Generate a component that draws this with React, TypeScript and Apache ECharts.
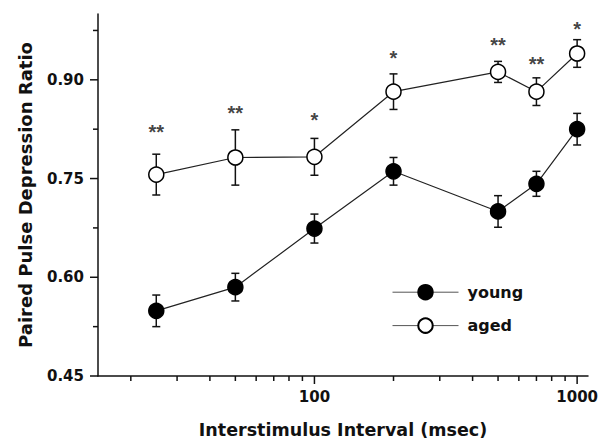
import React, { useEffect, useRef } from 'react';
import * as echarts from 'echarts';

const intervals = [25, 50, 100, 200, 500, 700, 1000];
const youngMean = [0.549, 0.585, 0.674, 0.761, 0.700, 0.742, 0.825];
const youngSem = [0.024, 0.021, 0.022, 0.021, 0.024, 0.019, 0.024];
const agedMean = [0.756, 0.782, 0.783, 0.882, 0.912, 0.882, 0.940];
const agedSem = [0.031, 0.042, 0.028, 0.027, 0.016, 0.021, 0.021];
const significance = ['**', '**', '*', '*', '**', '**', '*'];
const starY = [0.827, 0.856, 0.845, 0.939, 0.959, 0.930, 0.983];
const yLabels = [0.45, 0.6, 0.75, 0.9];
const yMinorTicks = [0.525, 0.675, 0.825, 0.975];
const xLabels = [100, 1000];
const xMinorTicks = [20, 30, 40, 50, 60, 70, 80, 90, 200, 300, 400, 500, 600, 700, 800, 900];

const X_MIN = 15;
const X_MAX = 1100;
const Y_MIN = 0.45;
const Y_MAX = 1.0;
const FONT = '"DejaVu Sans", "Liberation Sans", Arial, sans-serif';
const STAR_FONT = '"Liberation Sans", Arial, sans-serif';
const INK = '#111';

export default function App() {
  const ref = useRef<HTMLDivElement>(null);
  useEffect(() => {
    if (!ref.current) return;
    const chart = echarts.init(ref.current, null, { renderer: 'svg' });

    const errData = (mean: number[], sem: number[]) =>
      intervals.map((x, i) => [x, mean[i] - sem[i], mean[i] + sem[i]]);

    const errRender = (params: any, api: any) => {
      const x = api.value(0);
      const lo = api.coord([x, api.value(1)]);
      const hi = api.coord([x, api.value(2)]);
      const w = 4;
      const style = { stroke: INK, lineWidth: 1.5 };
      return {
        type: 'group',
        children: [
          { type: 'line', shape: { x1: hi[0], y1: hi[1], x2: lo[0], y2: lo[1] }, style },
          { type: 'line', shape: { x1: hi[0] - w, y1: hi[1], x2: hi[0] + w, y2: hi[1] }, style },
          { type: 'line', shape: { x1: lo[0] - w, y1: lo[1], x2: lo[0] + w, y2: lo[1] }, style },
        ],
      };
    };

    const xTickData = [
      ...xLabels.map((v) => [v, Y_MIN, 1]),
      ...xMinorTicks.map((v) => [v, Y_MIN, 0]),
    ];
    const yTickData = [
      ...yLabels.map((v) => [X_MIN, v, 1]),
      ...yMinorTicks.map((v) => [X_MIN, v, 0]),
    ];

    chart.setOption({
      animation: false,
      backgroundColor: '#fff',
      grid: {
        left: 98,
        right: 11,
        top: 14,
        bottom: 65,
        containLabel: false,
        outerBoundsMode: 'none',
      },
      legend: {
        data: ['young', 'aged'],
        orient: 'vertical',
        left: 387,
        top: 279,
        itemWidth: 66,
        itemHeight: 18,
        itemGap: 17,
        lineStyle: { color: '#555', width: 1 },
        textStyle: {
          fontSize: 16,
          fontWeight: 'bold',
          fontFamily: FONT,
          color: INK,
          padding: [0, 0, 0, 4],
        },
      },
      xAxis: {
        type: 'log',
        logBase: 10,
        min: X_MIN,
        max: X_MAX,
        axisLine: { lineStyle: { color: INK, width: 1.5 } },
        axisTick: { show: false },
        splitLine: { show: false },
        axisLabel: {
          margin: 13,
          fontSize: 15,
          fontWeight: 'bold',
          fontFamily: FONT,
          color: INK,
          formatter: (v: number) => {
            const hit = xLabels.find((t) => Math.abs(t - v) / t < 1e-6);
            return hit ? String(hit) : '';
          },
        },
        name: 'Interstimulus Interval (msec)',
        nameLocation: 'middle',
        nameGap: 45,
        nameTextStyle: { fontSize: 17.5, fontWeight: 'bold', fontFamily: FONT, color: INK },
      },
      yAxis: {
        type: 'value',
        min: Y_MIN,
        max: Y_MAX,
        interval: 0.15,
        axisLine: { show: true, lineStyle: { color: INK, width: 1.5 } },
        axisTick: { show: false },
        splitLine: { show: false },
        axisLabel: {
          margin: 14,
          fontSize: 15,
          fontWeight: 'bold',
          fontFamily: FONT,
          color: INK,
          formatter: (v: number) => {
            const hit = yLabels.find((t) => Math.abs(t - v) < 1e-6);
            return hit !== undefined ? hit.toFixed(2) : '';
          },
        },
        name: 'Paired Pulse Depression Ratio',
        nameLocation: 'middle',
        nameGap: 64,
        nameTextStyle: { fontSize: 18, fontWeight: 'bold', fontFamily: FONT, color: INK },
      },
      series: [
        {
          name: 'xticks',
          type: 'custom',
          silent: true,
          clip: false,
          data: xTickData,
          encode: { x: 0, y: 1 },
          renderItem: (params: any, api: any) => {
            const p = api.coord([api.value(0), Y_MIN]);
            const len = api.value(2) ? 8 : 5;
            return {
              type: 'line',
              shape: { x1: p[0], y1: p[1], x2: p[0], y2: p[1] + len },
              style: { stroke: INK, lineWidth: 1.5 },
            };
          },
        },
        {
          name: 'yticks',
          type: 'custom',
          silent: true,
          clip: false,
          data: yTickData,
          encode: { x: 0, y: 1 },
          renderItem: (params: any, api: any) => {
            const p = api.coord([X_MIN, api.value(1)]);
            const len = api.value(2) ? 8 : 5;
            return {
              type: 'line',
              shape: { x1: p[0] - len, y1: p[1], x2: p[0], y2: p[1] },
              style: { stroke: INK, lineWidth: 1.5 },
            };
          },
        },
        {
          name: 'young-err',
          type: 'custom',
          z: 2,
          silent: true,
          data: errData(youngMean, youngSem),
          encode: { x: 0, y: [1, 2] },
          renderItem: errRender,
        },
        {
          name: 'aged-err',
          type: 'custom',
          z: 2,
          silent: true,
          data: errData(agedMean, agedSem),
          encode: { x: 0, y: [1, 2] },
          renderItem: errRender,
        },
        {
          name: 'young',
          type: 'line',
          z: 3,
          symbol: 'circle',
          symbolSize: 15,
          data: intervals.map((x, i) => [x, youngMean[i]]),
          itemStyle: { color: '#000', borderColor: '#000', borderWidth: 1.5 },
          lineStyle: { color: '#222', width: 1.2 },
        },
        {
          name: 'aged',
          type: 'line',
          z: 3,
          symbol: 'circle',
          symbolSize: 15,
          data: intervals.map((x, i) => [x, agedMean[i]]),
          itemStyle: { color: '#fff', borderColor: '#000', borderWidth: 1.5 },
          lineStyle: { color: '#222', width: 1.2 },
        },
        {
          name: 'significance',
          type: 'scatter',
          z: 4,
          silent: true,
          symbolSize: 1,
          itemStyle: { color: 'transparent' },
          data: intervals.map((x, i) => [x, starY[i]]),
          label: {
            show: true,
            position: 'inside',
            offset: [0, 4],
            fontSize: 20,
            fontWeight: 'bold',
            fontFamily: STAR_FONT,
            color: INK,
            formatter: (p: any) => significance[p.dataIndex],
          },
        },
      ],
    });
    return () => chart.dispose();
  }, []);
  return (
    <div
      ref={ref}
      style={{ position: 'absolute', left: 0, top: 0, width: 599, height: 441 }}
    />
  );
}
